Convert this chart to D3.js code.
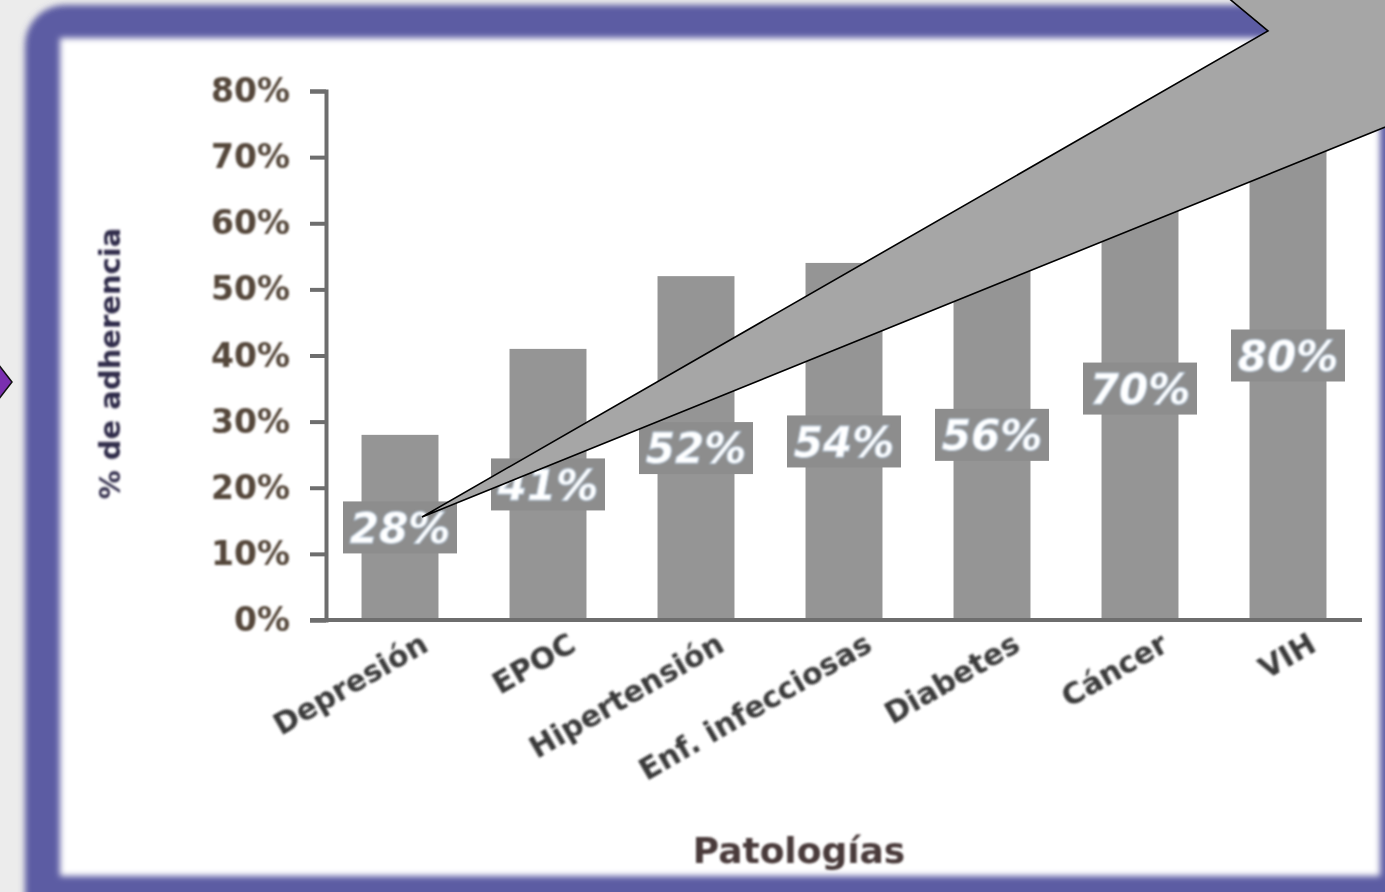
<!DOCTYPE html>
<html>
<head>
<meta charset="utf-8">
<script src="https://cdn.jsdelivr.net/npm/d3@7/dist/d3.min.js"></script>
<style>
  html, body { margin: 0; padding: 0; background: #ececec; overflow: hidden; }
  svg { display: block; }
</style>
</head>
<body>
<div id="chart"></div>
<script>
const categories = ["Depresión", "EPOC", "Hipertensión", "Enf. infecciosas", "Diabetes", "Cáncer", "VIH"];
const adherence = [28, 41, 52, 54, 56, 70, 80];
const yTicks = [0, 10, 20, 30, 40, 50, 60, 70, 80];
const yTitle = "% de adherencia";
const xTitle = "Patologías";

const width = 1385, height = 892;
const svg = d3.select("#chart").append("svg")
    .attr("width", width)
    .attr("height", height);

const defs = svg.append("defs");
defs.append("filter").attr("id", "soft")
    .attr("x", "-10%").attr("y", "-10%").attr("width", "120%").attr("height", "120%")
  .append("feGaussianBlur").attr("stdDeviation", 1.2);
defs.append("filter").attr("id", "frameBlur")
    .attr("x", "-5%").attr("y", "-5%").attr("width", "110%").attr("height", "110%")
  .append("feGaussianBlur").attr("stdDeviation", 3);

// slide background and frame
svg.append("rect").attr("width", width).attr("height", height).attr("fill", "#ececec");
svg.append("rect")
    .attr("x", 25).attr("y", 5).attr("width", 1420).attr("height", 940)
    .attr("rx", 40)
    .attr("fill", "#5b5ca3")
    .attr("filter", "url(#frameBlur)");
svg.append("rect")
    .attr("x", 60).attr("y", 38).attr("width", 1320).attr("height", 838)
    .attr("fill", "#ffffff")
    .attr("filter", "url(#frameBlur)");

// small arrow on the left edge
svg.append("path")
    .attr("d", "M-2,364 L12,382 L-2,400 Z")
    .attr("fill", "#7a2fb0")
    .attr("stroke", "#111")
    .attr("stroke-width", 1.5);

const margin = { left: 326, right: 23, top: 91, bottom: 272 };
const x = d3.scaleBand()
    .domain(categories)
    .range([margin.left, width - margin.right])
    .paddingInner(0.48)
    .paddingOuter(0.24);
const y = d3.scaleLinear()
    .domain([0, 80])
    .range([height - margin.bottom, margin.top]);

const g = svg.append("g");

// bars
g.selectAll("rect.bar")
  .data(adherence)
  .join("rect")
    .attr("class", "bar")
    .attr("x", (d, i) => x(categories[i]))
    .attr("y", d => y(d))
    .attr("width", x.bandwidth())
    .attr("height", d => y(0) - y(d))
    .attr("fill", "#959595");

// data label boxes
const lab = g.selectAll("g.lab")
  .data(adherence)
  .join("g")
    .attr("class", "lab")
    .attr("transform", (d, i) => `translate(${x(categories[i]) + x.bandwidth() / 2},${y(d / 2)})`);
lab.append("rect")
    .attr("x", -57).attr("y", -26)
    .attr("width", 114).attr("height", 52)
    .attr("fill", "#8d8d8d");
lab.append("text")
    .attr("text-anchor", "middle")
    .attr("dy", "0.36em")
    .attr("font-family", "DejaVu Sans")
    .attr("font-weight", "bold")
    .attr("font-style", "italic")
    .attr("font-size", 42)
    .attr("fill", "#ffffff")
    .attr("stroke", "#b9cde0")
    .attr("stroke-width", 1)
    .attr("filter", "url(#soft)")
    .text(d => d + "%");

// y axis
const yAxis = g.append("g")
    .attr("transform", `translate(${margin.left},0)`)
    .call(d3.axisLeft(y).tickValues(yTicks).tickFormat(d => d + "%").tickSize(16).tickPadding(20));
yAxis.select(".domain").attr("stroke", "#6e6e6e").attr("stroke-width", 4);
yAxis.selectAll(".tick line").attr("stroke", "#6e6e6e").attr("stroke-width", 4);
yAxis.selectAll(".tick text")
    .attr("font-family", "DejaVu Sans")
    .attr("font-weight", "bold")
    .attr("font-size", 33)
    .attr("fill", "#54473a")
    .attr("filter", "url(#soft)");

// x axis line
const xAxis = g.append("g")
    .attr("transform", `translate(0,${y(0)})`)
    .call(d3.axisBottom(x).tickSize(0).tickFormat(""));
xAxis.select(".domain")
    .attr("d", `M${margin.left - 16},0H${width - margin.right}`)
    .attr("stroke", "#6e6e6e").attr("stroke-width", 4);

// x category labels
g.selectAll("text.cat")
  .data(categories)
  .join("text")
    .attr("class", "cat")
    .attr("text-anchor", "end")
    .attr("transform", d => `translate(${x(d) + x.bandwidth() / 2 + 30},${y(0) + 30}) rotate(-30)`)
    .attr("font-family", "DejaVu Sans")
    .attr("font-weight", "bold")
    .attr("font-size", 30)
    .attr("fill", "#3a3a3a")
    .attr("filter", "url(#soft)")
    .text(d => d);

// axis titles
g.append("text")
    .attr("transform", `translate(120,${y(40) + 8}) rotate(-90)`)
    .attr("text-anchor", "middle")
    .attr("font-family", "DejaVu Sans")
    .attr("font-weight", "bold")
    .attr("font-size", 29)
    .attr("fill", "#2f2a48")
    .attr("filter", "url(#soft)")
    .text(yTitle);
g.append("text")
    .attr("x", (margin.left + width - margin.right) / 2 - 45)
    .attr("y", 863)
    .attr("text-anchor", "middle")
    .attr("font-family", "DejaVu Sans")
    .attr("font-weight", "bold")
    .attr("font-size", 36)
    .attr("fill", "#4a3a3a")
    .attr("filter", "url(#soft)")
    .text(xTitle);

// callout wedge pointing at the first bar label
svg.append("path")
    .attr("d", "M422,517 L1268,31 L1226,-4 L1400,-4 L1400,121 Z")
    .attr("fill", "#a6a6a6")
    .attr("stroke", "#000")
    .attr("stroke-width", 1.6)
    .attr("stroke-linejoin", "miter");
</script>
</body>
</html>
